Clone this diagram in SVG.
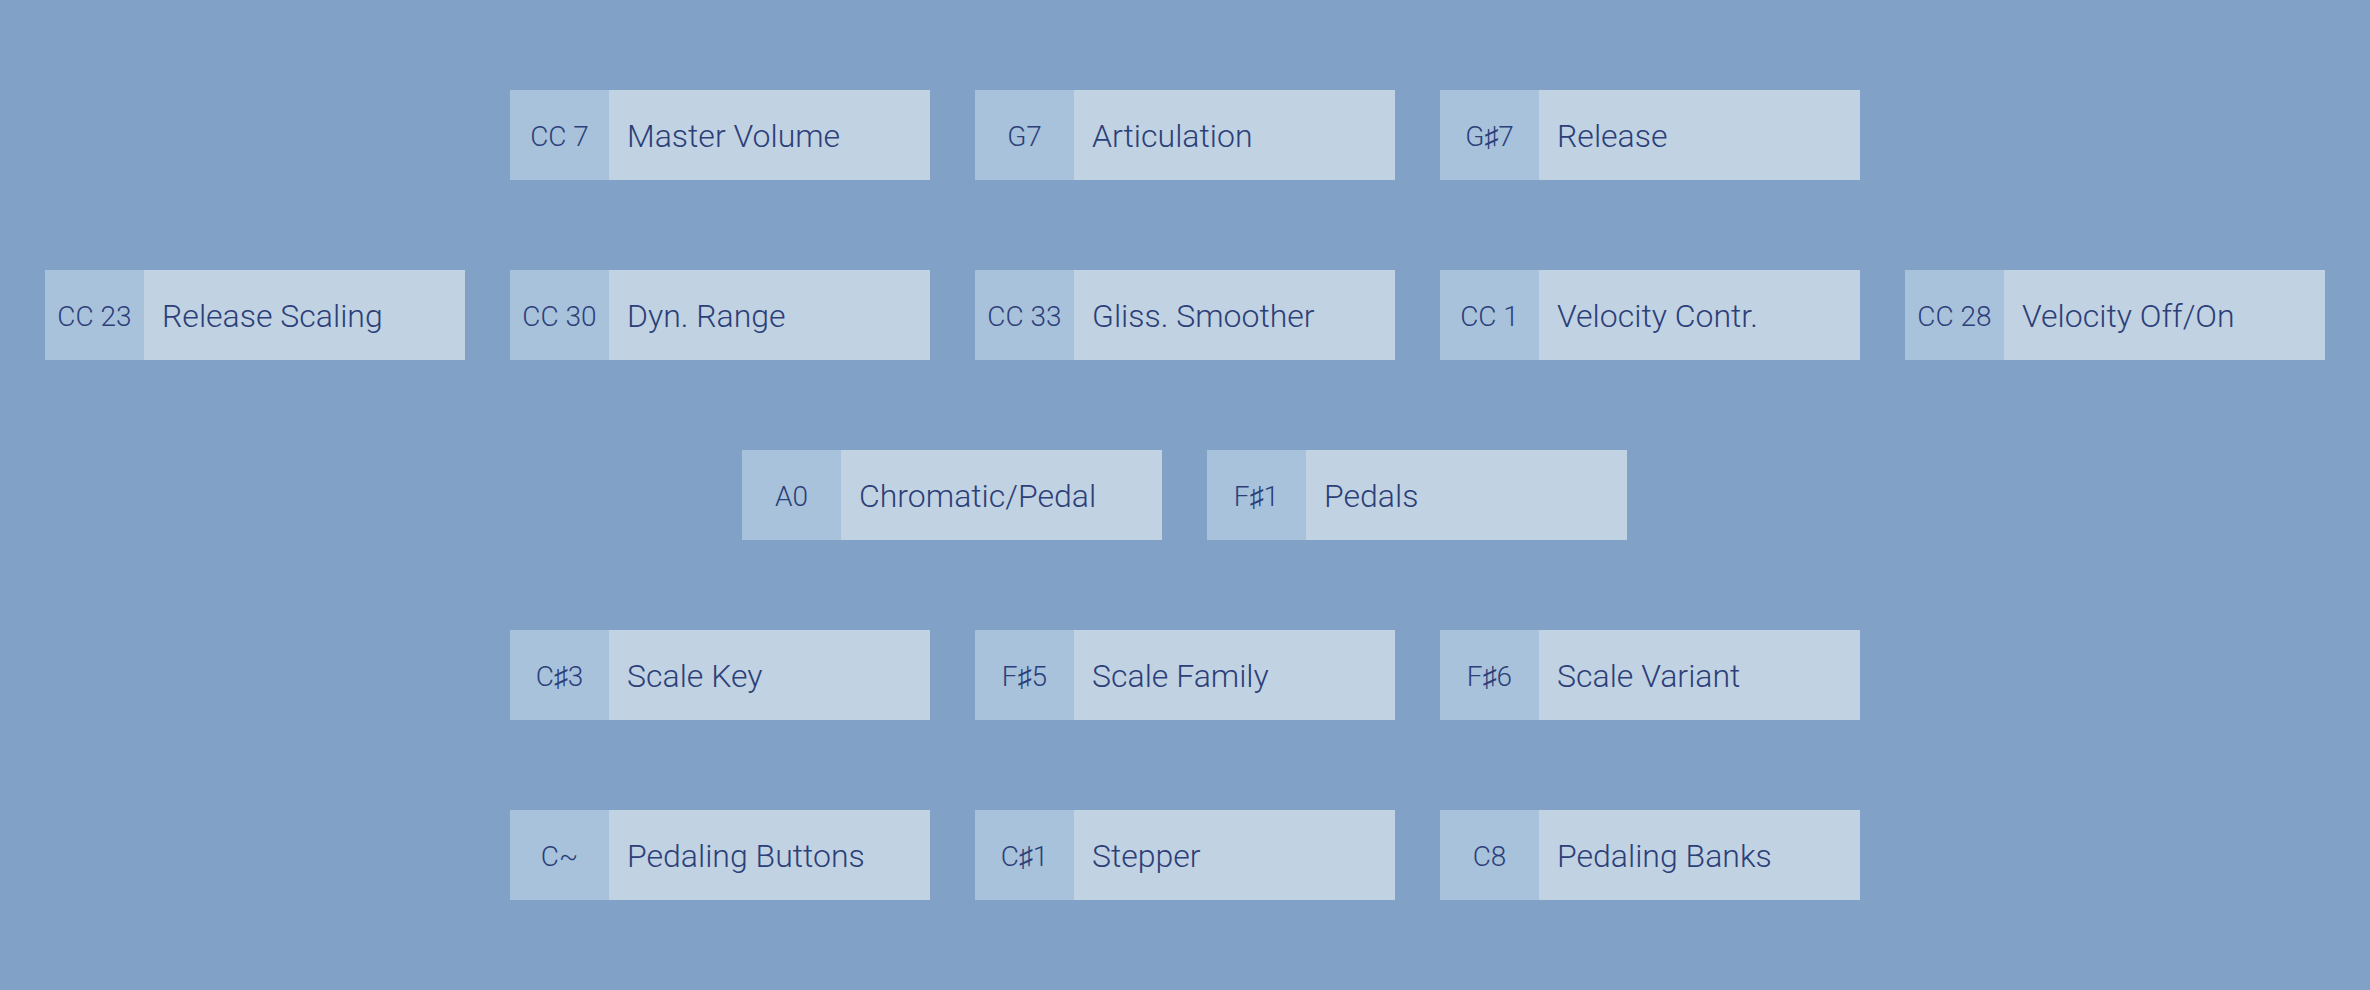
<svg xmlns="http://www.w3.org/2000/svg" width="2370" height="990" viewBox="0 0 2370 990">
<style>
.k{fill:#a8c2dc}
.l{fill:#c1d2e3}
.kt{font-family:Roboto,"Noto Sans","DejaVu Sans",sans-serif;font-size:28px;font-weight:300;fill:#2c3f78;text-anchor:middle}
.lt{font-family:Roboto,"Noto Sans","DejaVu Sans",sans-serif;font-size:32px;font-weight:300;fill:#2c3f78}
</style>
<rect width="2370" height="990" fill="#81a2c6"/>
<defs>
<g id="box"><rect class="l" x="0" y="0" width="420" height="90"/><rect class="k" x="0" y="0" width="99" height="90"/></g>
</defs>
<g id="connectors"/>
<g id="n-cc7" transform="translate(510,90)"><use href="#box"/><text class="kt" x="49.5" y="56">CC 7</text><text class="lt" x="117" y="57">Master Volume</text></g>
<g id="n-g7" transform="translate(975,90)"><use href="#box"/><text class="kt" x="49.5" y="56">G7</text><text class="lt" x="117" y="57">Articulation</text></g>
<g id="n-gs7" transform="translate(1440,90)"><use href="#box"/><text class="kt" x="49.5" y="56">G♯7</text><text class="lt" x="117" y="57">Release</text></g>

<g id="n-cc23" transform="translate(45,270)"><use href="#box"/><text class="kt" x="49.5" y="56">CC 23</text><text class="lt" x="117" y="57">Release Scaling</text></g>
<g id="n-cc30" transform="translate(510,270)"><use href="#box"/><text class="kt" x="49.5" y="56">CC 30</text><text class="lt" x="117" y="57">Dyn. Range</text></g>
<g id="n-cc33" transform="translate(975,270)"><use href="#box"/><text class="kt" x="49.5" y="56">CC 33</text><text class="lt" x="117" y="57">Gliss. Smoother</text></g>
<g id="n-cc1" transform="translate(1440,270)"><use href="#box"/><text class="kt" x="49.5" y="56">CC 1</text><text class="lt" x="117" y="57">Velocity Contr.</text></g>
<g id="n-cc28" transform="translate(1905,270)"><use href="#box"/><text class="kt" x="49.5" y="56">CC 28</text><text class="lt" x="117" y="57">Velocity Off/On</text></g>

<g id="n-a0" transform="translate(742,450)"><use href="#box"/><text class="kt" x="49.5" y="56">A0</text><text class="lt" x="117" y="57">Chromatic/Pedal</text></g>
<g id="n-fs1" transform="translate(1207,450)"><use href="#box"/><text class="kt" x="49.5" y="56">F♯1</text><text class="lt" x="117" y="57">Pedals</text></g>

<g id="n-cs3" transform="translate(510,630)"><use href="#box"/><text class="kt" x="49.5" y="56">C♯3</text><text class="lt" x="117" y="57">Scale Key</text></g>
<g id="n-fs5" transform="translate(975,630)"><use href="#box"/><text class="kt" x="49.5" y="56">F♯5</text><text class="lt" x="117" y="57">Scale Family</text></g>
<g id="n-fs6" transform="translate(1440,630)"><use href="#box"/><text class="kt" x="49.5" y="56">F♯6</text><text class="lt" x="117" y="57">Scale Variant</text></g>

<g id="n-ct" transform="translate(510,810)"><use href="#box"/><text class="kt" x="49.5" y="56">C~</text><text class="lt" x="117" y="57">Pedaling Buttons</text></g>
<g id="n-cs1" transform="translate(975,810)"><use href="#box"/><text class="kt" x="49.5" y="56">C♯1</text><text class="lt" x="117" y="57">Stepper</text></g>
<g id="n-c8" transform="translate(1440,810)"><use href="#box"/><text class="kt" x="49.5" y="56">C8</text><text class="lt" x="117" y="57">Pedaling Banks</text></g>
</svg>
